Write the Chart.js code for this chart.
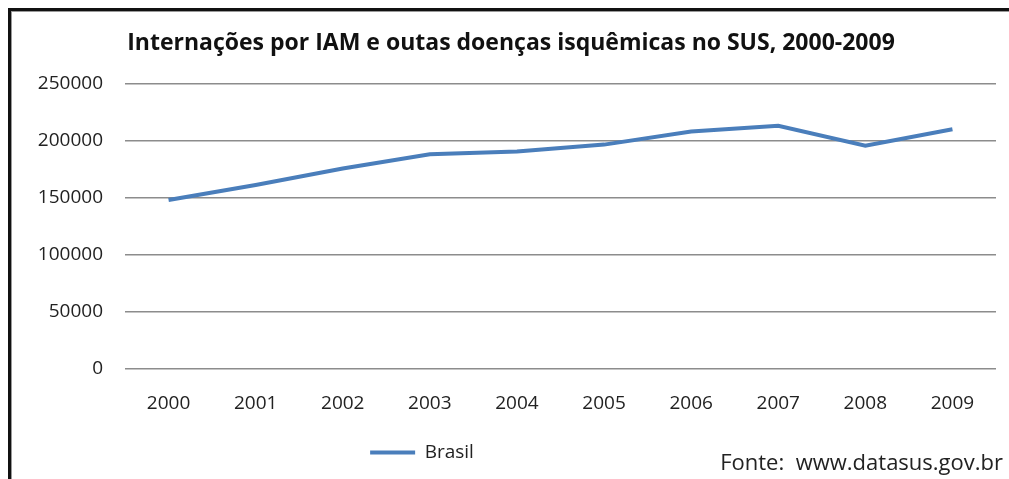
<!DOCTYPE html>
<html>
<head>
<meta charset="utf-8">
<script src="https://cdn.jsdelivr.net/npm/chart.js@4"></script>
<style>
html, body { margin: 0; padding: 0; background: #fff; }
#wrap { position: relative; width: 1009px; height: 479px; }
#frame { position: absolute; left: 8px; top: 8px; right: -10px; bottom: -10px;
  border-left: 3px solid #111; border-top: 3px solid #111;
  box-shadow: inset 1px 1px 0 #999; pointer-events: none; }
</style>
</head>
<body>
<div id="wrap">
<canvas id="grafico" width="1009" height="479"></canvas>
<div id="frame"></div>
</div>
<script>
// dados
var anos = ['2000', '2001', '2002', '2003', '2004', '2005', '2006', '2007', '2008', '2009'];
var brasil = [148000, 161000, 175500, 188000, 190500, 196500, 208000, 213000, 195500, 210000];
var yTicks = [0, 50000, 100000, 150000, 200000, 250000];
var titulo = 'Internações por IAM e outas doenças isquêmicas no SUS, 2000-2009';
var fonte = 'Fonte:  www.datasus.gov.br';

var azul = '#4a7ebb';
var fam = '"Open Sans", sans-serif';

// texto da fonte no canto inferior direito
var fontePlugin = {
    id: 'fonte',
    afterDraw: function (chart) {
        var ctx = chart.ctx;
        ctx.save();
        ctx.font = '22px ' + fam;
        ctx.fillStyle = '#222';
        ctx.textAlign = 'right';
        ctx.textBaseline = 'middle';
        ctx.fillText(fonte, 1003, 464);
        ctx.restore();
    }
};

// legenda e titulo deslocados como no original
var ajustePlugin = {
    id: 'ajuste',
    afterLayout: function (chart) {
        chart.legend.left -= 76;
        chart.legend.right -= 76;
        chart.legend.top -= 7;
        chart.legend.bottom -= 7;
        chart.titleBlock.left += 13;
        chart.titleBlock.right += 13;
    }
};

var ctx = document.getElementById('grafico');

var grafico = new Chart(ctx, {
    type: 'line',
    data: {
        labels: anos,
        datasets: [{
            label: 'Brasil',
            data: brasil,
            borderColor: azul,
            backgroundColor: azul,
            borderWidth: 4,
            pointRadius: 0,
            tension: 0
        }]
    },
    options: {
        responsive: false,
        animation: false,
        layout: { padding: { left: 0, right: 13, top: 0, bottom: 0 } },
        plugins: {
            title: {
                display: true,
                text: titulo,
                color: '#111',
                font: { family: fam, size: 23, weight: 'bold' },
                padding: { top: 30, bottom: 26 }
            },
            legend: {
                display: true,
                position: 'bottom',
                labels: {
                    color: '#222',
                    font: { family: fam, size: 19 },
                    boxWidth: 45,
                    boxHeight: 4,
                    padding: 12.5,
                    generateLabels: function (chart) {
                        return Chart.defaults.plugins.legend.labels.generateLabels(chart).map(function (l) {
                            l.lineWidth = 0;
                            return l;
                        });
                    }
                }
            },
            tooltip: { enabled: false }
        },
        scales: {
            x: {
                offset: true,
                grid: { display: false, drawTicks: false },
                border: { display: false },
                ticks: { color: '#222', font: { family: fam, size: 19 }, padding: 23, maxRotation: 0 }
            },
            y: {
                min: 0,
                max: 250000,
                afterBuildTicks: function (axis) {
                    axis.ticks = yTicks.map(function (v) { return { value: v }; });
                },
                grid: { color: '#8c8c8c', lineWidth: 1.5, drawTicks: false },
                border: { display: false },
                ticks: {
                    color: '#222',
                    font: { family: fam, size: 19 },
                    padding: 22,
                    callback: function (v) { return String(v); }
                },
                afterFit: function (axis) { axis.width = 125; }
            }
        }
    },
    plugins: [fontePlugin, ajustePlugin]
});
</script>
</body>
</html>
